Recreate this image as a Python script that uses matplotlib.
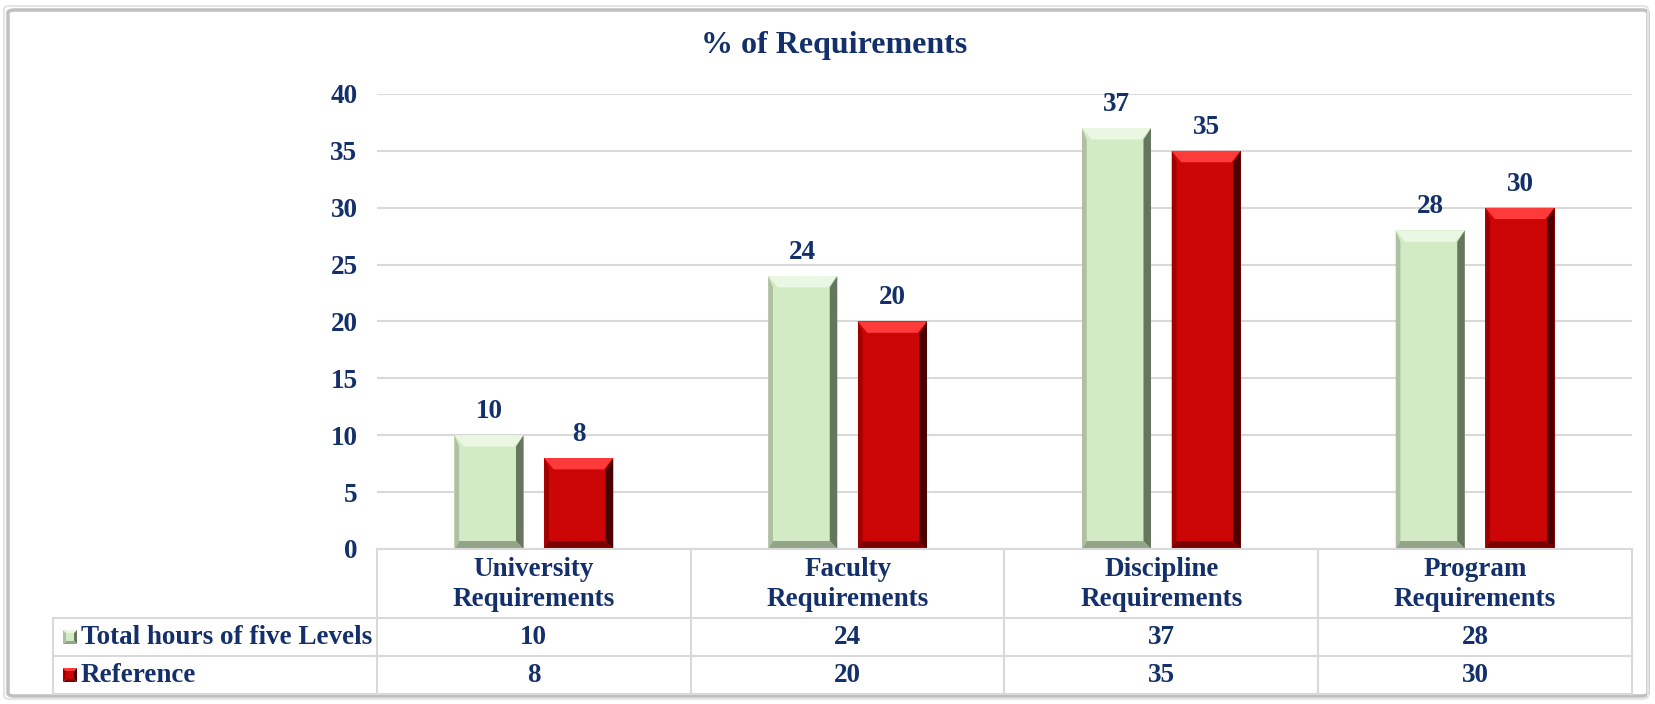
import matplotlib

matplotlib.use('Agg')
import matplotlib.pyplot as plt
from matplotlib.patches import Polygon, Rectangle, FancyBboxPatch
from matplotlib.lines import Line2D
import matplotlib.transforms as mtransforms

categories = ['University\nRequirements', 'Faculty\nRequirements',
              'Discipline\nRequirements', 'Program\nRequirements']
series_names = ['Total hours of five Levels', 'Reference']
total_hours = [10, 24, 37, 28]
reference = [8, 20, 35, 30]

navy = '#14306A'
grid_col = '#D9D9D9'
green = {'face': '#D3EBC5', 'top': '#EAF7E2', 'right': '#66755D', 'left': '#AEBFA2', 'bottom': '#93A488'}
red = {'face': '#CC0606', 'top': '#FF3A3A', 'right': '#4A0000', 'left': '#A00000', 'bottom': '#7A0000'}

plt.rcParams['font.family'] = ['Liberation Serif', 'DejaVu Serif']
plt.rcParams['font.weight'] = 'bold'
FS = 19.5

W, H = 1656, 704
fig = plt.figure(figsize=(W / 100, H / 100), dpi=100)
fig.patch.set_facecolor('white')

# outer frame
fig.patches.append(FancyBboxPatch((8 / W, 8 / H), 1 - 16 / W, 1 - 18 / H,
                                  boxstyle='round,pad=0,rounding_size=0.004',
                                  transform=fig.transFigure, fill=False,
                                  edgecolor='#BFBFBF', linewidth=2.5))
fig.patches.append(FancyBboxPatch((4 / W, 5 / H), 1 - 12 / W, 1 - 11 / H,
                                  boxstyle='round,pad=0,rounding_size=0.004',
                                  transform=fig.transFigure, fill=False,
                                  edgecolor='#E4E4E4', linewidth=1.5))

ax_left, ax_right = 377, 1632
ax_top, ax_bot = 94, 549
ax = fig.add_axes([ax_left / W, 1 - ax_bot / H, (ax_right - ax_left) / W, (ax_bot - ax_top) / H])
ax.set_xlim(-0.5, len(categories) - 0.5)
ax.set_ylim(0, 40)
ax.set_yticks(range(0, 41, 5))
ax.set_xticks([])
for s in ax.spines.values():
    s.set_visible(False)
ax.tick_params(axis='y', length=0, pad=14, labelsize=FS, labelcolor=navy)
for t in ax.get_yticklabels():
    t.set_fontweight('bold')
ax.grid(axis='y', color=grid_col, linewidth=1.5)
ax.set_axisbelow(True)

fig.text(0.504, 1 - 46 / H, '% of Requirements', ha='center', va='center',
         fontsize=23, fontweight='bold', color=navy)

bw = 0.22
off = 0.143
bx = 0.03
by = 1.0


def bevel_bar(x, h, c):
    x0, x1 = x - bw / 2, x + bw / 2
    ax.add_patch(Rectangle((x0, 0), bw, h, facecolor=c['face'], edgecolor='none', zorder=3))
    ax.add_patch(Polygon([(x0, h), (x1, h), (x1 - bx, h - by), (x0 + bx, h - by)],
                         facecolor=c['top'], edgecolor='none', zorder=4))
    ax.add_patch(Polygon([(x1, h), (x1, 0), (x1 - bx * 0.8, by * 0.7), (x1 - bx * 0.8, h - by)],
                         facecolor=c['right'], edgecolor='none', zorder=4))
    ax.add_patch(Polygon([(x0, h), (x0, 0), (x0 + bx * 0.5, by * 0.7), (x0 + bx * 0.5, h - by)],
                         facecolor=c['left'], edgecolor='none', zorder=4))
    ax.add_patch(Polygon([(x0, 0), (x1, 0), (x1 - bx * 0.8, by * 0.7), (x0 + bx * 0.5, by * 0.7)],
                         facecolor=c['bottom'], edgecolor='none', zorder=4))
    ax.annotate(str(h), (x, h), xytext=(0, 8), textcoords='offset points',
                ha='center', va='bottom', fontsize=FS, fontweight='bold', color=navy)


for i in range(len(categories)):
    bevel_bar(i - off, total_hours[i], green)
    bevel_bar(i + off, reference[i], red)

# data table below the axes
blend = mtransforms.blended_transform_factory(ax.transData, fig.transFigure)
row_y = [549, 618, 656, 694]


def fy(p):
    return 1 - p / H


tab_left = 53
xl, xr = -0.5, len(categories) - 0.5
lw = 1.5
fig.add_artist(Line2D([xl, xr], [fy(row_y[0])] * 2, transform=blend, color=grid_col, lw=lw))
for yy in row_y[1:]:
    fig.add_artist(Line2D([tab_left / W, ax_right / W], [fy(yy)] * 2,
                          transform=fig.transFigure, color=grid_col, lw=lw))
for k in range(len(categories) + 1):
    fig.add_artist(Line2D([xl + k] * 2, [fy(row_y[0]), fy(row_y[-1])], transform=blend,
                          color=grid_col, lw=lw))
fig.add_artist(Line2D([tab_left / W] * 2, [fy(row_y[1]), fy(row_y[-1])],
                      transform=fig.transFigure, color=grid_col, lw=lw))

for i, cat in enumerate(categories):
    fig.text(i, fy((row_y[0] + row_y[1]) / 2 + 1), cat, transform=blend, ha='center', va='center',
             fontsize=FS, fontweight='bold', color=navy, linespacing=1.25)
    fig.text(i, fy((row_y[1] + row_y[2]) / 2), str(total_hours[i]), transform=blend,
             ha='center', va='center', fontsize=FS, fontweight='bold', color=navy)
    fig.text(i, fy((row_y[2] + row_y[3]) / 2), str(reference[i]), transform=blend,
             ha='center', va='center', fontsize=FS, fontweight='bold', color=navy)

for r, (name, c) in enumerate(zip(series_names, [green, red])):
    yc = (row_y[r + 1] + row_y[r + 2]) / 2
    ks = 14
    kx0, kx1 = 63, 63 + ks
    ky0, ky1 = yc - ks / 2, yc + ks / 2
    kxc, kyc = (kx0 + kx1) / 2, yc
    tris = [([(kx0, ky0), (kx1, ky0), (kxc, kyc)], c['top']),
            ([(kx1, ky0), (kx1, ky1), (kxc, kyc)], c['right']),
            ([(kx0, ky1), (kx1, ky1), (kxc, kyc)], c['bottom']),
            ([(kx0, ky0), (kx0, ky1), (kxc, kyc)], c['left'])]
    for pts, col in tris:
        fig.patches.append(Polygon([(px / W, fy(py)) for px, py in pts],
                                   transform=fig.transFigure, facecolor=col, edgecolor='none'))
    fig.patches.append(Rectangle(((kx0 + 3) / W, fy(ky1 - 3)), (ks - 6) / W, (ks - 6) / H,
                                 transform=fig.transFigure, facecolor=c['face'], edgecolor='none'))
    fig.text(81 / W, fy(yc), name, ha='left', va='center', fontsize=FS,
             fontweight='bold', color=navy)

fig.savefig('out.png', dpi=100, facecolor='white')
plt.close(fig)
